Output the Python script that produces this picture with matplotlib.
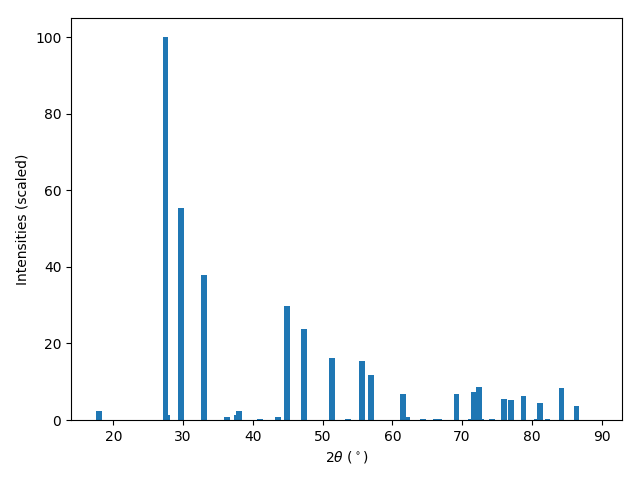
import matplotlib
matplotlib.use("Agg")
import matplotlib.pyplot as plt

# peak positions (2theta, degrees) and scaled intensities
two_theta = [17.9, 27.5, 27.7, 29.67, 32.97, 36.3, 37.7, 37.98, 41.0,
             43.57, 44.93, 47.36, 51.38, 53.6, 55.67, 56.9, 61.55, 62.15,
             64.4, 66.3, 66.7, 69.2, 71.25, 71.7, 72.4, 72.7, 74.3, 76.0,
             77.0, 78.8, 80.7, 81.2, 82.25, 84.25, 86.4]
intensity = [2.3, 100.0, 1.3, 55.3, 38.0, 0.8, 1.4, 2.3, 0.3,
             0.8, 29.8, 23.8, 16.2, 0.3, 15.4, 11.8, 6.7, 0.8,
             0.3, 0.3, 0.3, 6.8, 0.3, 7.3, 8.6, 0.3, 0.3, 5.5,
             5.2, 6.3, 0.3, 4.45, 0.3, 8.4, 3.6]

plt.figure(figsize=(6.4, 4.8), dpi=100)
plt.bar(two_theta, intensity, width=0.8)
plt.xlim(13.93, 92.94)
plt.ylim(0, 105)
plt.xlabel(r"2$\theta$ ($^\circ$)")
plt.ylabel("Intensities (scaled)")
plt.subplots_adjust(left=0.111, right=0.972, bottom=0.125, top=0.962)

plt.savefig("out.png")
plt.close()
